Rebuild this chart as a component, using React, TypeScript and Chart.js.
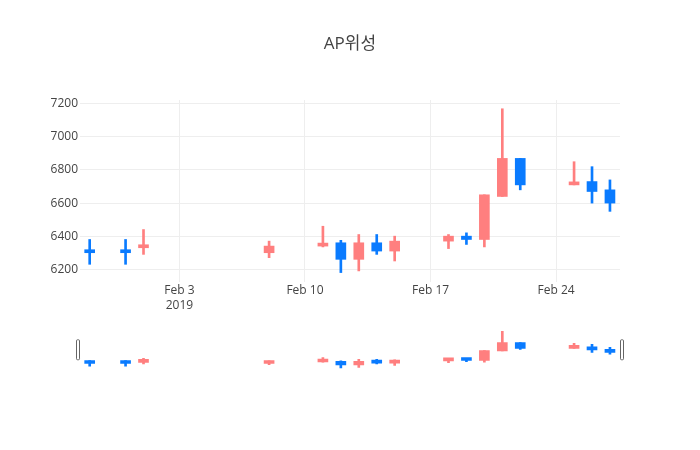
import { useEffect, useRef } from "react";
import { Chart, registerables } from "chart.js";

Chart.register(...registerables);

const TITLE = "AP위성";

const dates = [
  "2019-01-29", "2019-01-31", "2019-02-01", "2019-02-08", "2019-02-11",
  "2019-02-12", "2019-02-13", "2019-02-14", "2019-02-15", "2019-02-18",
  "2019-02-19", "2019-02-20", "2019-02-21", "2019-02-22", "2019-02-25",
  "2019-02-26", "2019-02-27",
];
const open = [6310, 6310, 6330, 6300, 6340, 6360, 6260, 6360, 6310, 6370, 6400, 6380, 6640, 6870, 6710, 6730, 6680];
const high = [6380, 6380, 6440, 6370, 6460, 6375, 6410, 6410, 6400, 6410, 6420, 6650, 7170, 6870, 6850, 6820, 6740];
const low = [6230, 6230, 6290, 6270, 6335, 6180, 6190, 6290, 6250, 6325, 6350, 6335, 6640, 6680, 6710, 6600, 6550];
const close = [6300, 6300, 6340, 6340, 6350, 6260, 6360, 6310, 6370, 6400, 6380, 6650, 6870, 6710, 6720, 6670, 6600];

const tickDates = ["2019-02-03", "2019-02-10", "2019-02-17", "2019-02-24"];
const tickLabels: (string | string[])[] = [["Feb 3", "2019"], "Feb 10", "Feb 17", "Feb 24"];
const yTicks = [6200, 6400, 6600, 6800, 7000, 7200];

const UP = "#ff7f7f";
const DOWN = "#0a7bff";
const FONT = '"Open Sans", "Noto Sans CJK KR", sans-serif';

const day = (s: string) => {
  const [y, m, d] = s.split("-").map(Number);
  return Date.UTC(y, m - 1, d) / 86400000;
};

const X_MIN = day(dates[0]) - 0.54;
const X_MAX = day(dates[dates.length - 1]) + 0.56;
const Y_MIN = 6123;
const Y_MAX = 7223;

const colorAt = (ctx: any) =>
  close[ctx.dataIndex] >= open[ctx.dataIndex] ? UP : DOWN;

function candleDatasets() {
  return [
    {
      data: dates.map((d, i) => ({ x: day(d), y: [open[i], close[i]] })),
      backgroundColor: colorAt,
      barThickness: 10,
      minBarLength: 3,
      grouped: false,
      borderWidth: 0,
    },
    {
      data: dates.map((d, i) => ({ x: day(d), y: [low[i], high[i]] })),
      backgroundColor: colorAt,
      barThickness: 2,
      grouped: false,
      borderWidth: 0,
    },
  ];
}

const titlePlugin = {
  id: "titleText",
  afterDraw(chart: any) {
    const c = chart.ctx;
    const a = chart.chartArea;
    c.save();
    c.font = `17px ${FONT}`;
    c.fillStyle = "#444";
    c.textAlign = "center";
    c.textBaseline = "middle";
    c.fillText(TITLE, (a.left + a.right) / 2, 44.5);
    c.restore();
  },
};

const handlePlugin = {
  id: "sliderHandles",
  afterDraw(chart: any) {
    const c = chart.ctx;
    const a = chart.chartArea;
    const mid = (a.top + a.bottom) / 2;
    c.save();
    c.fillStyle = "#fff";
    c.strokeStyle = "#666";
    c.lineWidth = 1;
    for (const x of [a.left - 3.5, a.right + 0.5]) {
      c.beginPath();
      c.roundRect(x, mid - 10, 3, 20, 1);
      c.fill();
      c.stroke();
    }
    c.restore();
  },
};

export default function App() {
  const mainRef = useRef<HTMLCanvasElement>(null);
  const sliderRef = useRef<HTMLCanvasElement>(null);

  useEffect(() => {
    if (!mainRef.current || !sliderRef.current) return;

    const main = new Chart(mainRef.current, {
      type: "bar",
      data: { datasets: candleDatasets() as any },
      options: {
        responsive: false,
        animation: false,
        layout: { padding: { left: 0, top: 100, right: 80, bottom: 138 } },
        plugins: { legend: { display: false }, tooltip: { enabled: false } },
        scales: {
          x: {
            type: "linear",
            min: X_MIN,
            max: X_MAX,
            offset: false,
            afterBuildTicks: (s: any) => {
              s.ticks = tickDates.map((d) => ({ value: day(d) }));
            },
            afterFit: (s: any) => {
              s.height = 30;
            },
            ticks: {
              autoSkip: false,
              maxRotation: 0,
              padding: 1,
              color: "#444",
              font: { family: FONT, size: 12, lineHeight: 1.25 },
              callback: (_v: any, i: number) => tickLabels[i],
            },
            grid: { color: "#eee", drawTicks: false, offset: false },
            border: { display: false },
          },
          y: {
            min: Y_MIN,
            max: Y_MAX,
            afterBuildTicks: (s: any) => {
              s.ticks = yTicks.map((v) => ({ value: v }));
            },
            afterFit: (s: any) => {
              s.width = 80;
            },
            ticks: {
              padding: 2,
              color: "#444",
              font: { family: FONT, size: 12 },
              callback: (v: any) => String(v),
            },
            grid: { color: "#eee", drawTicks: false },
            border: { display: false },
          },
        },
      },
      plugins: [titlePlugin],
    });

    const slider = new Chart(sliderRef.current, {
      type: "bar",
      data: { datasets: candleDatasets() as any },
      options: {
        responsive: false,
        animation: false,
        layout: { padding: { left: 80, top: 329.5, right: 80, bottom: 80 } },
        plugins: { legend: { display: false }, tooltip: { enabled: false } },
        scales: {
          x: { type: "linear", min: X_MIN, max: X_MAX, offset: false, display: false },
          y: { min: Y_MIN, max: Y_MAX, display: false },
        },
      },
      plugins: [handlePlugin],
    });

    return () => {
      main.destroy();
      slider.destroy();
    };
  }, []);

  return (
    <div style={{ position: "absolute", left: 0, top: 0, width: 700, height: 450, background: "#fff" }}>
      <canvas ref={mainRef} width={700} height={450} style={{ position: "absolute", left: 0, top: 0 }} />
      <canvas ref={sliderRef} width={700} height={450} style={{ position: "absolute", left: 0, top: 0 }} />
    </div>
  );
}
